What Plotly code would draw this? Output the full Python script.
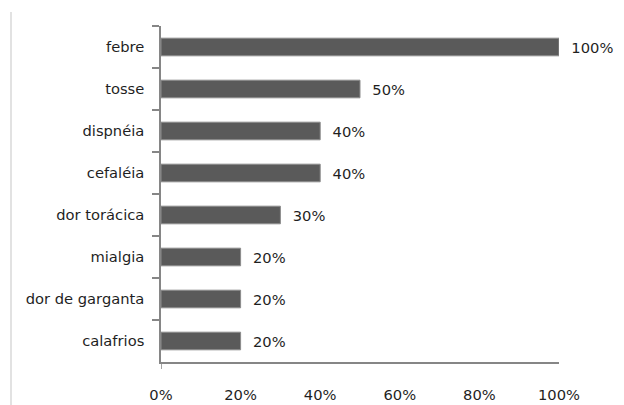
import plotly.graph_objects as go

categories = ["febre", "tosse", "dispnéia", "cefaléia", "dor torácica", "mialgia", "dor de garganta", "calafrios"]
values = [1.00, 0.50, 0.40, 0.40, 0.30, 0.20, 0.20, 0.20]
x_tick_vals = [0, 0.2, 0.4, 0.6, 0.8, 1.0]
x_tick_text = ["0%", "20%", "40%", "60%", "80%", "100%"]

FONT = "DejaVu Sans"
FS = 14.7
TXT = "#1f1f1f"
AX = "#868686"

fig = go.Figure()
fig.add_trace(go.Bar(
    x=values,
    y=categories,
    orientation="h",
    marker=dict(color="#5a5a5a", line=dict(color="#8c8c8c", width=1)),
    text=["  " + f"{v:.0%}" for v in values],
    textposition="outside",
    constraintext="none",
    cliponaxis=False,
    textfont=dict(family=FONT, size=FS, color=TXT),
    hoverinfo="skip",
))

fig.update_layout(
    width=624, height=405,
    margin=dict(l=161, r=65, t=26, b=43, autoexpand=False),
    paper_bgcolor="white", plot_bgcolor="white",
    bargap=0.58,
    showlegend=False,
    font=dict(family=FONT, size=FS, color=TXT),
    xaxis=dict(
        range=[0, 1], tickvals=x_tick_vals, ticktext=x_tick_text,
        showgrid=False, zeroline=False, showline=True, automargin=False,
        linecolor=AX, linewidth=1.5, ticks="", ticklabelstandoff=19,
        tickfont=dict(family=FONT, size=FS, color=TXT), fixedrange=True,
    ),
    yaxis=dict(
        categoryorder="array", categoryarray=categories, autorange="reversed",
        showgrid=False, zeroline=False, showline=True, automargin=False,
        linecolor=AX, linewidth=1.5, ticks="outside", tickson="boundaries",
        ticklen=7, tickcolor=AX, tickwidth=1.5, ticklabelstandoff=12,
        tickfont=dict(family=FONT, size=FS, color=TXT), fixedrange=True,
    ),
    shapes=[
        dict(type="line", xref="x", yref="paper", x0=0, x1=0, y0=0, y1=-7 / 336,
             line=dict(color=AX, width=1.5)),
        dict(type="line", xref="paper", yref="paper", x0=-150 / 398, x1=-150 / 398,
             y0=-43 / 336, y1=(362 - 12) / 336, line=dict(color="#d9d9d9", width=1.5)),
    ],
)

fig.write_html("out.html")
